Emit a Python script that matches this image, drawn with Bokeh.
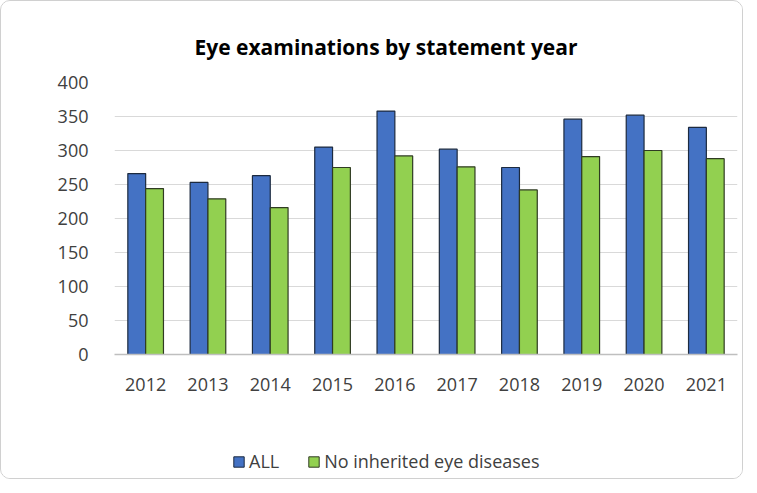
from bokeh.plotting import figure
from bokeh.layouts import column
from bokeh.models import (FactorRange, Range1d, Legend, LegendItem, ColumnDataSource, Title,
                          FixedTicker)
from bokeh.transform import dodge
from bokeh.embed import file_html
from bokeh.resources import INLINE

years = ["2012", "2013", "2014", "2015", "2016", "2017", "2018", "2019", "2020", "2021"]
all_vals = [266, 253, 263, 305, 358, 302, 275, 346, 352, 334]
no_inherited = [244, 229, 216, 275, 292, 276, 242, 291, 300, 288]
y_ticks = [0, 50, 100, 150, 200, 250, 300, 350, 400]
series_names = ["ALL", "No inherited eye diseases"]

FONT = "Open Sans"
TXT = "#404040"
BLUE, GREEN = "#4472C4", "#92D050"
BLUE_LINE, GREEN_LINE = "#1c2a3f", "#2f3b22"

src = ColumnDataSource(dict(year=years, all=all_vals, noinh=no_inherited))

p = figure(width=741, height=410, x_range=FactorRange(*years), y_range=Range1d(0, 400),
           output_backend="svg", toolbar_location=None,
           min_border_left=113, min_border_right=5, min_border_top=81, min_border_bottom=57)
t = Title(text="Eye examinations by statement year", align="left", offset=80, text_font=FONT,
          text_font_size="21px", text_font_style="bold", text_color="#000000", standoff=43)
p.add_layout(t, "above")

p.vbar(x=dodge("year", -0.143, range=p.x_range), top="all", width=0.286, source=src,
       fill_color=BLUE, line_color=BLUE_LINE, line_width=1.2)
p.vbar(x=dodge("year", 0.143, range=p.x_range), top="noinh", width=0.286, source=src,
       fill_color=GREEN, line_color=GREEN_LINE, line_width=1.2)

p.x_range.range_padding = 0
p.x_range.group_padding = 0
p.outline_line_color = None
p.background_fill_color = "white"
p.border_fill_color = "white"

p.yaxis.ticker = FixedTicker(ticks=y_ticks)
p.yaxis.axis_line_color = None
p.yaxis.major_tick_line_color = None
p.yaxis.minor_tick_line_color = None
p.yaxis.major_label_standoff = 20
p.xaxis.axis_line_color = "#bfbfbf"
p.xaxis.axis_line_width = 1.5
p.xaxis.major_tick_line_color = None
p.xaxis.minor_tick_line_color = None
p.xaxis.major_label_standoff = 17
for ax in (p.xaxis, p.yaxis):
    ax.major_label_text_font = FONT
    ax.major_label_text_font_size = "18px"
    ax.major_label_text_color = TXT

p.xgrid.grid_line_color = None
p.ygrid.grid_line_color = "#d9d9d9"
p.ygrid.grid_line_width = 1

# legend strip (its frame is aligned with the chart frame by the column layout)
lg = figure(width=741, height=67, x_range=Range1d(0, 1), y_range=Range1d(0, 1),
            output_backend="svg", toolbar_location=None,
            min_border_left=0, min_border_right=0, min_border_top=0, min_border_bottom=0)
lg.axis.visible = False
lg.grid.visible = False
lg.outline_line_color = None
lg.border_fill_color = "white"
lg.background_fill_color = "white"
offscreen = ColumnDataSource(dict(x=[-10], top=[-9]))
lr1 = lg.vbar(x="x", top="top", bottom=-10, width=0.1, source=offscreen,
              fill_color=BLUE, line_color=BLUE_LINE)
lr2 = lg.vbar(x="x", top="top", bottom=-10, width=0.1, source=offscreen,
              fill_color=GREEN, line_color=GREEN_LINE)
legend = Legend(items=[LegendItem(label=series_names[0], renderers=[lr1], index=0),
                       LegendItem(label=series_names[1], renderers=[lr2], index=0)],
                orientation="horizontal", location=(118, 5),
                label_text_font=FONT, label_text_font_size="18px", label_text_color=TXT,
                glyph_width=13, glyph_height=13, spacing=28, label_standoff=4,
                border_line_color=None, background_fill_alpha=0, padding=2, margin=0)
lg.add_layout(legend, "center")

layout = column(p, lg, spacing=0)
layout.styles = {"border": "1px solid #d0d0d0", "border-radius": "10px", "overflow": "hidden"}

open("out.html", "w").write(file_html(layout, INLINE))
